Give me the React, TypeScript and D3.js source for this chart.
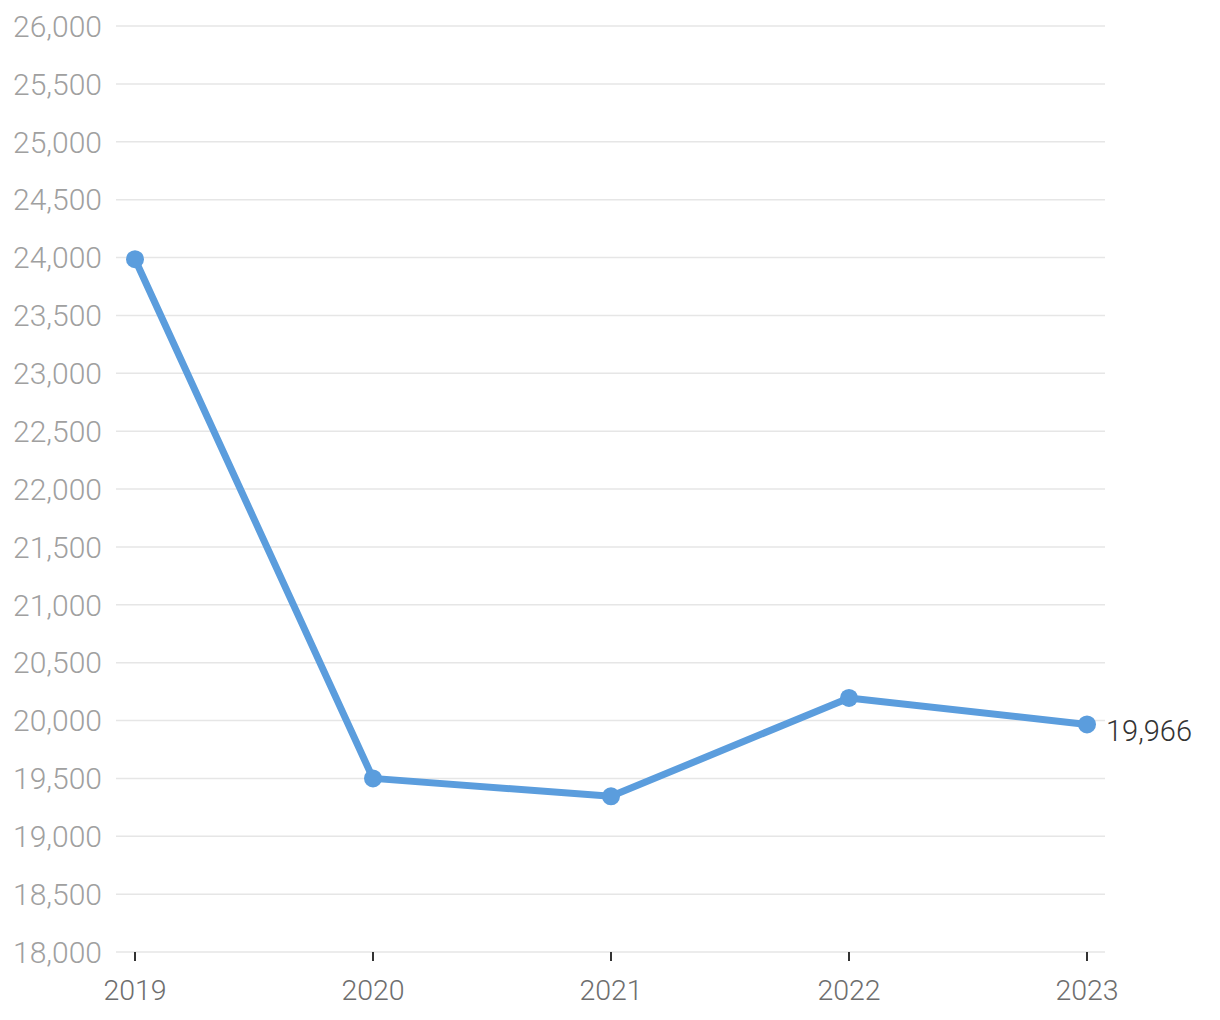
import React from "react";
import * as d3 from "d3";

const years = ["2019", "2020", "2021", "2022", "2023"];
const values = [23985, 19500, 19345, 20195, 19966];
const yTicks = [18000, 18500, 19000, 19500, 20000, 20500, 21000, 21500, 22000, 22500, 23000, 23500, 24000, 24500, 25000, 25500, 26000];

export default function App() {
  const W = 1220, H = 1020;
  const x = d3.scalePoint<string>().domain(years).range([135, 1087]);
  const y = d3.scaleLinear().domain([18000, 26000]).range([952, 26]);
  const fmt = d3.format(",");
  const line = d3.line<number>().x((_, i) => x(years[i])!).y((d) => y(d));
  const font = "Roboto, 'Noto Sans', sans-serif";
  return (
    <svg width={W} height={H} style={{ position: "absolute", left: 0, top: 0 }} fontFamily={font}>
      {yTicks.map((t) => (
        <g key={t}>
          <line x1={116} x2={1105} y1={y(t)} y2={y(t)} stroke="#e6e6e6" strokeWidth={1.5} />
          <text x={102} y={y(t)} dy="0.36em" textAnchor="end" fontSize={30} fill="#a0a0a0" fontWeight={300}>
            {fmt(t)}
          </text>
        </g>
      ))}
      {years.map((yr) => (
        <g key={yr}>
          <line x1={x(yr)} x2={x(yr)} y1={952} y2={961} stroke="#333" strokeWidth={2} />
          <text x={x(yr)} y={1000} textAnchor="middle" fontSize={28.5} fill="#6e6e6e" fontWeight={300}>
            {yr}
          </text>
        </g>
      ))}
      <path d={line(values) || ""} fill="none" stroke="#5b9ddd" strokeWidth={7} strokeLinejoin="round" />
      {values.map((v, i) => (
        <circle key={i} cx={x(years[i])} cy={y(v)} r={9} fill="#5b9ddd" />
      ))}
      <text x={x(years[4])! + 19} y={y(values[4])} dy="0.58em" fontSize={29} fill="#333" fontWeight={300}>
        {fmt(values[4])}
      </text>
    </svg>
  );
}
